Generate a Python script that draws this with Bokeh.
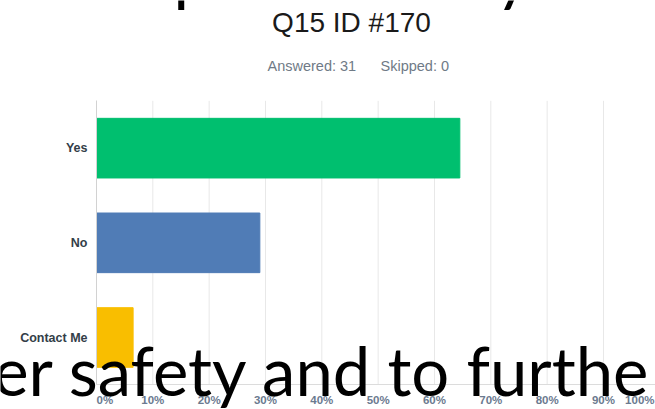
from bokeh.plotting import figure
from bokeh.models import (ColumnDataSource, Range1d, FixedTicker,
                          PrintfTickFormatter, Label)
from bokeh.embed import file_html
from bokeh.resources import INLINE

# ---- data ----
categories = ["Yes", "No", "Contact Me"]
percent = [64.5, 29.0, 6.5]
bar_colors = ["#00bf6f", "#507cb6", "#f9be00"]
grid_ticks = [10, 20, 30, 40, 50, 60, 70, 80, 90, 100]
edge_ticks = [0, 100]
title_text = "Q15 ID #170"
answered_text = "Answered: 31"
skipped_text = "Skipped: 0"
overlay_bottom = "er safety and to furthe"
overlay_top = ["p", "y"]

W, H = 655, 409
# pixel geometry of the chart area
X0_PX, PX_PER_PCT = 96.0, 5.633      # 0% position, pixels per percent
Y1_PX, PX_PER_CAT = 337.0, 94.67     # centre of lowest category, spacing
BASELINE_SHIFT = 0.36                # label baseline correction (em)

def dx(px):
    return (px - X0_PX) / PX_PER_PCT

def dy(py):
    return 1 + (Y1_PX - py) / PX_PER_CAT

n = len(categories)
ypos = [n - i for i in range(n)]     # Yes=3, No=2, Contact Me=1

p = figure(width=W, height=H,
           x_range=Range1d(dx(0), dx(W)), y_range=Range1d(dy(H), dy(0)),
           output_backend="svg", toolbar_location=None, min_border=0)
p.outline_line_color = None
p.background_fill_color = "white"
p.border_fill_color = "white"
p.xgrid.visible = False
p.ygrid.visible = False

# vertical grid lines over the category band
p.segment(x0=grid_ticks, x1=grid_ticks, y0=[0.5] * len(grid_ticks),
          y1=[n + 0.5] * len(grid_ticks), line_color="#e8e8e8", line_width=1)

src = ColumnDataSource(dict(y=ypos, pct=percent, color=bar_colors, cat=categories))
p.hbar(y="y", left=0, right="pct", height=0.63, fill_color="color",
       line_color="color", source=src)

# x axis (fixed at the bottom of the category band)
xa = p.xaxis[0]
xa.fixed_location = 0.5
xa.bounds = (0, 100)
xa.ticker = FixedTicker(ticks=grid_ticks[:-1])
xa.formatter = PrintfTickFormatter(format="%d%%")
xa.axis_line_color = "#dcdcdc"
xa.major_tick_line_color = None
xa.minor_tick_line_color = None
xa.major_tick_in = 0
xa.major_tick_out = 0
xa.major_label_standoff = 9
xa.major_label_text_font = "Liberation Sans"
xa.major_label_text_font_style = "bold"
xa.major_label_text_font_size = "11.5px"
xa.major_label_text_color = "#6b7a8f"

# y axis (fixed at 0%)
ya = p.yaxis[0]
ya.fixed_location = 0
ya.bounds = (0.5, n + 0.5)
ya.ticker = FixedTicker(ticks=ypos)
ya.major_label_overrides = {y: c for y, c in zip(ypos, categories)}
ya.axis_line_color = "#d2d2d2"
ya.major_tick_line_color = None
ya.minor_tick_line_color = None
ya.major_tick_in = 0
ya.major_tick_out = 0
ya.major_label_standoff = 9
ya.major_label_text_font = "Liberation Sans"
ya.major_label_text_font_style = "bold"
ya.major_label_text_font_size = "12.5px"
ya.major_label_text_color = "#333e48"

def add_label(text, fx, fy, size, **kw):
    # fx, fy: desired pixel anchor (fy = alphabetic baseline)
    fy_corr = fy - BASELINE_SHIFT * size
    p.add_layout(Label(x=dx(fx), y=dy(fy_corr), text=text,
                       text_baseline="alphabetic",
                       text_font_size=f"{size}px", **kw))

tick_style = dict(text_font="Liberation Sans", text_font_style="bold",
                  text_color="#6b7a8f")
add_label(f"{edge_ticks[0]}%", 96, 403.5, 11.5, text_align="left", **tick_style)
add_label(f"{edge_ticks[1]}%", 654, 403.5, 11.5, text_align="right", **tick_style)

# title & subtitle
add_label(title_text, 351, 32, 28, text_align="center",
          text_font="Liberation Sans", text_color="#1a1a1a")
add_label(answered_text, 267, 71, 14.5, text_align="left",
          text_font="Liberation Sans", text_color="#6f7a86")
add_label(skipped_text, 380, 71, 14.5, text_align="left",
          text_font="Liberation Sans", text_color="#6f7a86")

# overlaid slide text
big = dict(text_font="Lato", text_color="black")
add_label(overlay_bottom, 651, 394, 67, text_align="right", **big)
add_label(overlay_top[0], 173, -4, 67, text_align="left", **big)
add_label(overlay_top[1], 495, -4, 67, text_align="left", **big)

open("out.html", "w").write(file_html(p, INLINE))
